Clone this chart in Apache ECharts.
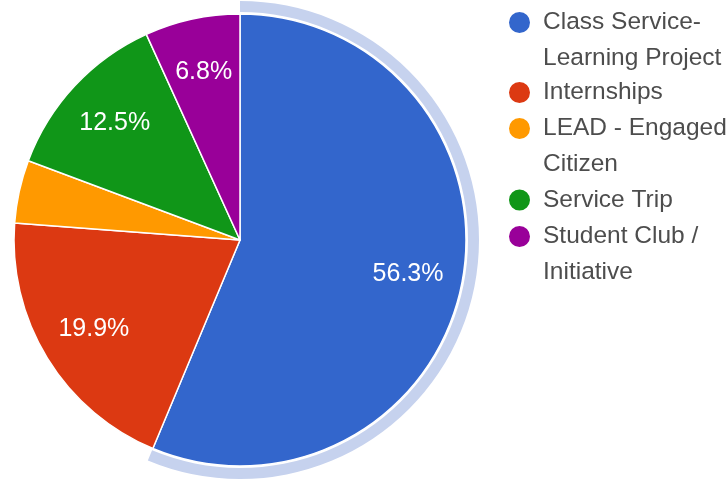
<!DOCTYPE html>
<html>
<head>
<meta charset="utf-8">
<script src="https://cdn.jsdelivr.net/npm/echarts@6/dist/echarts.min.js"></script>
<style>
html,body{margin:0;padding:0;background:#fff;}
#chart{width:728px;height:482px;}
</style>
</head>
<body>
<div id="chart"></div>
<script>
// Data
var categories = ['Class Service-Learning Project', 'Internships', 'LEAD - Engaged Citizen', 'Service Trip', 'Student Club / Initiative'];
var legendLabels = ['Class Service-\nLearning Project', 'Internships', 'LEAD - Engaged\nCitizen', 'Service Trip', 'Student Club /\nInitiative'];
var shares = [56.3, 19.9, 4.5, 12.5, 6.8];
var colors = ['#3366cc', '#dc3912', '#ff9900', '#109618', '#990099'];
var highlightIndex = 0;

var CX = 240, CY = 240, R = 226;
var LH = 35.5, FS_LEGEND = 24.5, FS_LABEL = 25;
var FONT = '"Liberation Sans", Arial, sans-serif';

var mainData = categories.map(function (c, i) {
  return { name: c, value: shares[i], itemStyle: { color: colors[i] } };
});
var ringData = categories.map(function (c, i) {
  return { name: 'ring ' + c, value: shares[i],
    itemStyle: { color: i === highlightIndex ? '#c6d2ee' : 'rgba(0,0,0,0)' } };
});
var labelData = categories.map(function (c, i) {
  return { name: 'label ' + c, value: shares[i], itemStyle: { color: 'rgba(0,0,0,0)' } };
});

// Legend: one component per item so that the icon lines up with the first text line
var iconCenters = [22.5, 92.5, 128.5, 200, 236.5];
var legends = categories.map(function (c, i) {
  var twoLine = legendLabels[i].indexOf('\n') >= 0;
  // for two-line labels prepend an empty line so the first real line is centred on the icon
  var text = twoLine ? '\n' + legendLabels[i] : legendLabels[i];
  var top = twoLine ? iconCenters[i] - 1.5 * LH : iconCenters[i] - 0.5 * LH;
  return {
    orient: 'vertical',
    left: 507,
    top: top,
    padding: 0,
    itemGap: 0,
    selectedMode: false,
    icon: 'circle',
    itemWidth: 23,
    itemHeight: 23,
    data: [c],
    formatter: function () { return text; },
    textStyle: { fontSize: FS_LEGEND, lineHeight: LH, color: '#4d4d4d', fontFamily: FONT, padding: [0, 0, 0, 7] }
  };
});

var chart = echarts.init(document.getElementById('chart'), null, { renderer: 'canvas' });
chart.setOption({
  animation: false,
  backgroundColor: '#ffffff',
  legend: legends,
  series: [
    {
      type: 'pie',
      center: [CX, CY],
      radius: [0, R],
      startAngle: 90,
      clockwise: true,
      silent: true,
      label: { show: false },
      labelLine: { show: false },
      itemStyle: { borderColor: '#ffffff', borderWidth: 1.5 },
      data: mainData
    },
    {
      type: 'pie',
      center: [CX, CY],
      radius: [R + 2, R + 13],
      startAngle: 90,
      clockwise: true,
      silent: true,
      legendHoverLink: false,
      label: { show: false },
      labelLine: { show: false },
      data: ringData
    },
    {
      type: 'pie',
      center: [CX, CY],
      radius: [R * 0.49, R],
      startAngle: 90,
      clockwise: true,
      silent: true,
      legendHoverLink: false,
      labelLine: { show: false },
      label: {
        show: true,
        position: 'inside',
        color: '#ffffff',
        fontSize: FS_LABEL,
        fontFamily: FONT,
        formatter: function (p) { return p.value < 5 ? '' : p.value.toFixed(1) + '%'; }
      },
      data: labelData
    }
  ]
});
</script>
</body>
</html>
